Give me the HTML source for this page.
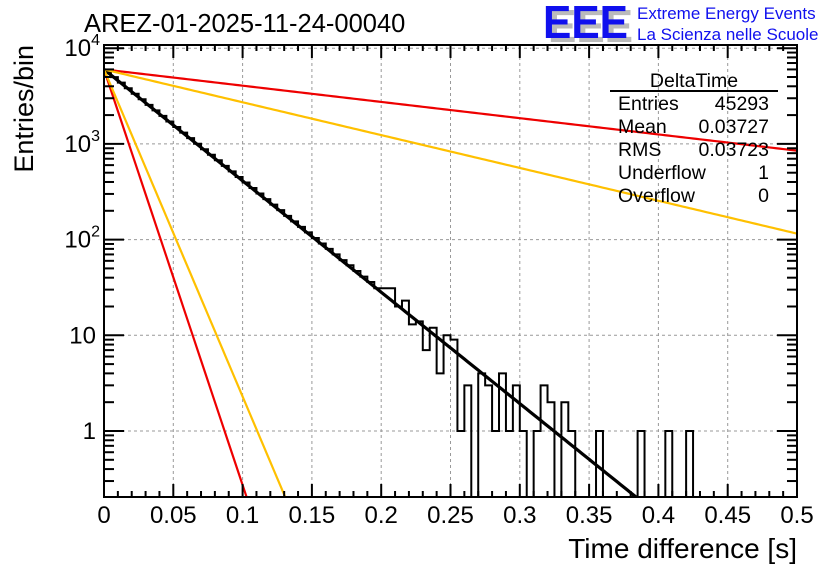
<!DOCTYPE html>
<html><head><meta charset="utf-8"><style>
html,body{margin:0;padding:0;background:#fff;overflow:hidden;width:836px;height:572px;}
svg{display:block;font-family:"Liberation Sans",sans-serif;}
</style></head><body>
<svg id="c" width="836" height="572" viewBox="0 0 836 572">
<defs><clipPath id="pc"><rect x="104" y="45" width="693" height="452"/></clipPath></defs>
<rect width="836" height="572" fill="#fff"/>
<g id="grid"></g>
<g id="hist" clip-path="url(#pc)"></g>
<g id="fits" clip-path="url(#pc)"></g>
<g id="axes"></g>
<text x="84" y="32" font-size="25.5">AREZ-01-2025-11-24-00040</text>
<g>
<text x="548" y="42" font-size="46" font-weight="bold" fill="#bbb" textLength="85" lengthAdjust="spacingAndGlyphs">EEE</text>
<text x="543" y="38" font-size="46" font-weight="bold" fill="#1010ee" textLength="85" lengthAdjust="spacingAndGlyphs">EEE</text>
<text x="637" y="19" font-size="17" fill="#1010ee">Extreme Energy Events</text>
<text x="637" y="40" font-size="17" fill="#1010ee">La Scienza nelle Scuole</text>
</g>
<g font-size="19.5">
<text x="694" y="87" text-anchor="middle">DeltaTime</text>
<line x1="610" y1="91" x2="778" y2="91" stroke="#000" stroke-width="2"/>
<text x="618" y="110">Entries</text><text x="769" y="110" text-anchor="end">45293</text>
<text x="618" y="133">Mean</text><text x="769" y="133" text-anchor="end">0.03727</text>
<text x="618" y="156">RMS</text><text x="769" y="156" text-anchor="end">0.03723</text>
<text x="618" y="179">Underflow</text><text x="769" y="179" text-anchor="end">1</text>
<text x="618" y="202">Overflow</text><text x="769" y="202" text-anchor="end">0</text>
</g>
<text x="797" y="558" font-size="28" text-anchor="end">Time difference [s]</text>
<text transform="translate(33,45) rotate(-90)" font-size="27" text-anchor="end">Entries/bin</text>
</svg>
<script>
const binWidth = 0.005;
const counts = [5700,4990,4365,3820,3340,2925,2560,2240,1960,1715,1500,1310,1150,1005,880,770,674,590,516,451,395,346,303,265,232,203,177,155,136,119,104,91,80,70,61,54,47,41,36,31,
31,31,20,23,13,14,7,12,4,10,9,1,3,0,4,3,1,4,1,3,1,0,1,3,2,0,2,1,0,0,0,1,0,0,0,0,0,1,0,0,0,1,0,0,1,0,0,0,0,0,0,0,0,0,0,0,0,0,0,0];
const xTicks = [0,0.05,0.1,0.15,0.2,0.25,0.3,0.35,0.4,0.45,0.5];
const xTickLabels = ["0","0.05","0.1","0.15","0.2","0.25","0.3","0.35","0.4","0.45","0.5"];
const yDecades = [1,10,100,1000,10000];
const yDecadeLabels = ["1","10","","",""];
const fitAmps = [6000,6000,6000,6000,6000];
const fitRates = [26.8,100,78.7,3.91,7.9];
const fitColors = ["#000","#ee0000","#ffc000","#ee0000","#ffc000"];
const fitNames = ["exponential-fit","red-steep-curve","yellow-steep-curve","red-shallow-curve","yellow-shallow-curve"];

const L=104,R=797,T=45,B=497;
const NS="http://www.w3.org/2000/svg";
const X=v=>L+(v/0.5)*(R-L);
const Y=v=>v<=0?B+5:431-95.7*Math.log10(v);
function mk(tag,attrs,parent){const e=document.createElementNS(NS,tag);for(const k in attrs)e.setAttribute(k,attrs[k]);parent.appendChild(e);return e;}
const grid=document.getElementById('grid'),axes=document.getElementById('axes'),hist=document.getElementById('hist'),fits=document.getElementById('fits');
xTicks.forEach((t,i)=>{if(i>0&&i<xTicks.length-1){const g=mk('line',{x1:X(t),x2:X(t),y1:T,y2:B,stroke:'#999','stroke-dasharray':'3,3'},grid);}});
yDecades.forEach(d=>{const y=Y(d);if(y>T+2&&y<B){const g=mk('line',{x1:L,x2:R,y1:y,y2:y,stroke:'#999','stroke-dasharray':'3,3'},grid);}});
let d='M'+X(0)+','+B;
counts.forEach((c,i)=>{const y=Math.min(Y(c),B+5);d+=' L'+X(i*binWidth)+','+y+' L'+X((i+1)*binWidth)+','+y;});
d+=' L'+X(counts.length*binWidth)+','+B;
const h=mk('path',{d:d,fill:'none',stroke:'#000','stroke-width':2},hist);


fitAmps.forEach((a,i)=>{let p='';for(let k=0;k<=200;k++){const x=0.5*k/200;const v=a*Math.exp(-fitRates[i]*x);p+=(k?' L':'M')+X(x)+','+Y(v);}
 const e=mk('path',{d:p,fill:'none',stroke:fitColors[i],'stroke-width':i==0?3.2:2.2},fits);
 
 });
const fr=mk('rect',{x:L,y:T,width:R-L,height:B-T,fill:'none',stroke:'#000','stroke-width':2},axes);


for(let k=0;k<=50;k++){const x=X(k*0.01);const len=(k%5==0)?13:6;mk('line',{x1:x,x2:x,y1:B,y2:B-len,stroke:'#000','stroke-width':2},axes);mk('line',{x1:x,x2:x,y1:T,y2:T+len,stroke:'#000','stroke-width':2},axes);}
xTicks.forEach((t,i)=>{const e=mk('text',{x:X(t),y:523,'font-size':24,'text-anchor':'middle'},axes);e.textContent=xTickLabels[i];});
for(let e=-1;e<=4;e++){for(let m=1;m<=9;m++){const v=m*Math.pow(10,e);const y=Y(v);if(y<T||y>B)continue;const len=m==1?20:10;mk('line',{x1:L,x2:L+len,y1:y,y2:y,stroke:'#000','stroke-width':2},axes);mk('line',{x1:R,x2:R-len,y1:y,y2:y,stroke:'#000','stroke-width':2},axes);}}
yDecades.forEach((dv,i)=>{const y=Y(dv);const t=mk('text',{x:96,y:y+8,'font-size':24,'text-anchor':'end'},axes);
 if(yDecadeLabels[i]){t.textContent=yDecadeLabels[i];}else{t.textContent='10';const s=mk('tspan',{dy:-11,'font-size':16},t);s.textContent=String(Math.round(Math.log10(dv)));t.setAttribute('x',100);}});
</script>
</body></html>
